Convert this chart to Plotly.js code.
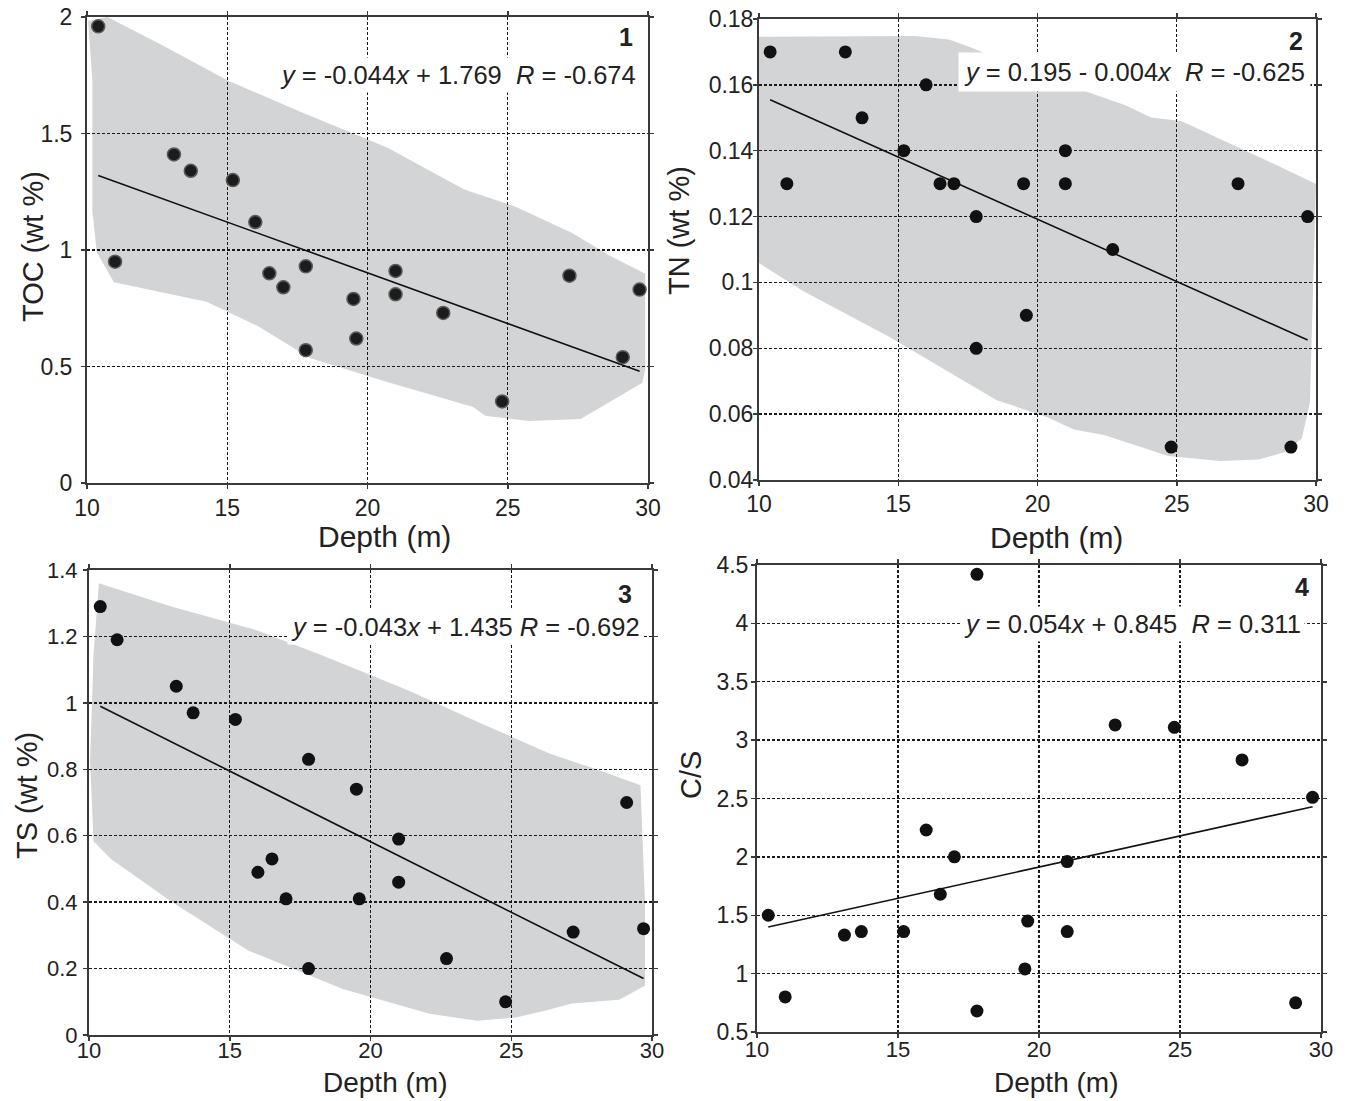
<!DOCTYPE html>
<html>
<head>
<meta charset="utf-8">
<script src="https://cdn.plot.ly/plotly-3.0.1.min.js"></script>
<style>
  html, body { margin: 0; padding: 0; background: #fff; }
  #chart { width: 1348px; height: 1101px; }
</style>
</head>
<body>
<div id="chart"></div>
<script>
// ---------------- data ----------------
const depth = [10.4, 11.0, 13.1, 13.7, 15.2, 16.0, 16.5, 17.0, 17.8, 17.8, 19.5, 19.6, 21.0, 21.0, 22.7, 24.8, 27.2, 29.1, 29.7];
const toc   = [1.96, 0.95, 1.41, 1.34, 1.30, 1.12, 0.90, 0.84, 0.93, 0.57, 0.79, 0.62, 0.91, 0.81, 0.73, 0.35, 0.89, 0.54, 0.83];
const tn    = [0.17, 0.13, 0.17, 0.15, 0.14, 0.16, 0.13, 0.13, 0.12, 0.08, 0.13, 0.09, 0.14, 0.13, 0.11, 0.05, 0.13, 0.05, 0.12];
const ts    = [1.29, 1.19, 1.05, 0.97, 0.95, 0.49, 0.53, 0.41, 0.83, 0.20, 0.74, 0.41, 0.59, 0.46, 0.23, 0.10, 0.31, 0.70, 0.32];
const cs    = [1.50, 0.80, 1.33, 1.36, 1.36, 2.23, 1.68, 2.00, 4.42, 0.68, 1.04, 1.45, 1.96, 1.36, 3.13, 3.11, 2.83, 0.75, 2.51];

// regression lines (end points)
const fitX   = [10.4, 29.7];
const tocFit = [1.32, 0.48];
const tnFit  = [0.1555, 0.0825];
const tsFit  = [0.99, 0.17];
const csFit  = [1.40, 2.43];

// grey envelopes
const tocEnvX = [10.04, 10.73, 12.72, 15.02, 17.63, 20.7, 23.45, 25.3, 27.3, 28.66, 29.9, 29.9, 29.8, 27.6, 25.75, 24.2, 23.77, 20.7, 17.95, 16.1, 14.26, 10.96, 10.35, 10.19, 10.19];
const tocEnvY = [1.983, 2.0, 1.877, 1.727, 1.592, 1.44, 1.26, 1.185, 1.073, 0.974, 0.898, 0.49, 0.43, 0.275, 0.266, 0.289, 0.326, 0.433, 0.537, 0.673, 0.778, 0.862, 0.99, 1.17, 1.73];
const tnEnvX  = [10.0, 15.6, 16.82, 17.76, 19.5, 21.77, 23.16, 24.08, 25.16, 26.4, 28.56, 30.0, 29.78, 29.49, 28.87, 27.94, 26.55, 24.7, 22.39, 21.3, 20.38, 18.52, 14.67, 11.58, 10.0];
const tnEnvY  = [0.1746, 0.1748, 0.1738, 0.1709, 0.164, 0.1579, 0.1538, 0.1501, 0.149, 0.1442, 0.1357, 0.1299, 0.0634, 0.0526, 0.0484, 0.0462, 0.0458, 0.0473, 0.0537, 0.0553, 0.059, 0.0643, 0.0835, 0.0974, 0.1059];
const tsEnvX  = [10.35, 12.92, 15.98, 18.27, 21.33, 24.09, 26.38, 28.22, 29.59, 29.75, 29.75, 29.29, 28.83, 27.15, 26.23, 25.16, 23.78, 22.1, 19.04, 15.67, 12.92, 10.78, 10.16, 10.04, 10.16];
const tsEnvY  = [1.36, 1.29, 1.218, 1.143, 1.038, 0.932, 0.847, 0.794, 0.752, 0.402, 0.148, 0.127, 0.106, 0.095, 0.074, 0.053, 0.043, 0.064, 0.138, 0.254, 0.402, 0.53, 0.583, 0.826, 1.143];

const xTitle = 'Depth (m)';
const yTitles = ['TOC (wt %)', 'TN (wt %)', 'TS (wt %)', 'C/S'];
const panelLabels = ['1', '2', '3', '4'];
const equations = [
  '<i>y</i> = -0.044<i>x</i> + 1.769&nbsp;&nbsp;<i>R</i> = -0.674',
  '<i>y</i> = 0.195 - 0.004<i>x</i>&nbsp;&nbsp;<i>R</i> = -0.625',
  '<i>y</i> = -0.043<i>x</i> + 1.435 <i>R</i> = -0.692',
  '<i>y</i> = 0.054<i>x</i> + 0.845&nbsp;&nbsp;<i>R</i> = 0.311'
];
const yRanges = [[0, 2], [0.04, 0.18], [0, 1.4], [0.5, 4.5]];
const yDticks = [0.5, 0.02, 0.2, 0.5];

// ---------------- layout helpers ----------------
const W = 1348, H = 1101;
const px = v => v / W;
const py = v => 1 - v / H;

// plot boxes in pixels: [left, right, top, bottom]
const boxes = [
  [87, 648, 17, 483],
  [759, 1316, 19, 480],
  [89, 652, 570, 1035],
  [757, 1321, 565, 1032]
];
const yLabelStandoff = [4, -5, 1, -2];
const xLabelStandoff = [-1, -2, -9, -7];
const yTickSize = [23, 23, 22, 23];
const xTickSize = [23, 23, 22, 22];
// axis-title centres in pixels
const xTitlePos = [[384, 536], [1056, 537], [385, 1082], [1056, 1082]];
const yTitlePos = [[33, 247], [679, 231], [27, 796], [691, 775]];
const xTitleSize = [30, 30, 28, 28];

const FONT = '"Liberation Sans", Arial, Helvetica, sans-serif';
const TXT = '#222';

const layout = {
  width: W, height: H,
  margin: {l: 0, r: 0, t: 0, b: 0},
  paper_bgcolor: '#fff', plot_bgcolor: 'rgba(0,0,0,0)',
  showlegend: false,
  font: {family: FONT, color: TXT, size: 23},
  shapes: [], annotations: []
};

function axisCommon() {
  return {
    showline: true, linecolor: '#3a3a3a', linewidth: 2, mirror: 'ticks',
    ticks: 'outside', ticklen: 4, tickwidth: 1.5, tickcolor: '#3a3a3a',
    showgrid: true, gridcolor: '#1a1a1a', gridwidth: 1.4, griddash: '3px,2px',
    zeroline: false, tickfont: {size: 23, color: TXT, family: FONT}
  };
}

const traces = [];
const ys = [toc, tn, ts, cs];
const fits = [tocFit, tnFit, tsFit, csFit];

for (let i = 0; i < 4; i++) {
  const n = i === 0 ? '' : String(i + 1);
  const b = boxes[i];
  layout['xaxis' + n] = Object.assign(axisCommon(), {
    domain: [px(b[0]), px(b[1])], anchor: 'y' + n,
    range: [10, 30], dtick: 5, tick0: 10,
    ticklabelstandoff: xLabelStandoff[i],
    tickfont: {size: xTickSize[i], color: TXT, family: FONT}
  });
  layout['yaxis' + n] = Object.assign(axisCommon(), {
    domain: [py(b[3]), py(b[2])], anchor: 'x' + n,
    range: yRanges[i], dtick: yDticks[i], tick0: yRanges[i][0],
    ticklabelstandoff: yLabelStandoff[i],
    tickfont: {size: yTickSize[i], color: TXT, family: FONT}
  });

  const mk = i === 0
    ? {size: 13, color: '#1c1c1c', line: {color: '#5a5a5a', width: 1.5}}
    : {size: 13, color: '#111', line: {color: '#111', width: 0}};
  traces.push({
    type: 'scatter', mode: 'lines', x: fitX, y: fits[i],
    xaxis: 'x' + n, yaxis: 'y' + n,
    line: {color: '#111', width: 1.6}, hoverinfo: 'skip'
  });
  traces.push({
    type: 'scatter', mode: 'markers', x: depth, y: ys[i],
    xaxis: 'x' + n, yaxis: 'y' + n, marker: mk
  });

  // axis titles
  layout.annotations.push({
    xref: 'paper', yref: 'paper', x: px(xTitlePos[i][0]), y: py(xTitlePos[i][1]),
    xanchor: 'center', yanchor: 'middle', showarrow: false, text: xTitle,
    font: {size: xTitleSize[i], color: TXT, family: FONT}
  });
  layout.annotations.push({
    xref: 'paper', yref: 'paper', x: px(yTitlePos[i][0]), y: py(yTitlePos[i][1]),
    xanchor: 'center', yanchor: 'middle', showarrow: false, text: yTitles[i],
    textangle: -90, font: {size: 29, color: TXT, family: FONT}
  });
}

// envelopes as shapes below the grid
function envPath(xs, ysArr) {
  let p = '';
  for (let k = 0; k < xs.length; k++) p += (k === 0 ? 'M' : 'L') + xs[k] + ',' + ysArr[k] + ' ';
  return p + 'Z';
}
const envs = [[tocEnvX, tocEnvY, ''], [tnEnvX, tnEnvY, '2'], [tsEnvX, tsEnvY, '3']];
envs.forEach(e => {
  layout.shapes.push({
    type: 'path', path: envPath(e[0], e[1]), xref: 'x' + e[2], yref: 'y' + e[2],
    fillcolor: '#d3d4d6', line: {width: 0}, layer: 'below'
  });
});

// equations & panel numbers
const eqPos = [[640, 75], [1311, 72], [644, 627], [1305, 624]];
const eqPad = [3, 5, 3, 3];
const numPos = [[635, 37], [1305, 41], [634, 594], [1311, 587]];
for (let i = 0; i < 4; i++) {
  layout.annotations.push({
    xref: 'paper', yref: 'paper', x: px(eqPos[i][0]), y: py(eqPos[i][1]),
    xanchor: 'right', yanchor: 'middle', showarrow: false,
    text: equations[i], bgcolor: '#fff', borderpad: eqPad[i],
    font: {size: 25.5, color: TXT, family: FONT}
  });
  layout.annotations.push({
    xref: 'paper', yref: 'paper', x: px(numPos[i][0]), y: py(numPos[i][1]),
    xanchor: 'right', yanchor: 'middle', showarrow: false,
    text: '<b>' + panelLabels[i] + '</b>',
    font: {size: 25, color: TXT, family: FONT}
  });
}

Plotly.newPlot('chart', traces, layout, {staticPlot: true, displayModeBar: false});
</script>
</body>
</html>
